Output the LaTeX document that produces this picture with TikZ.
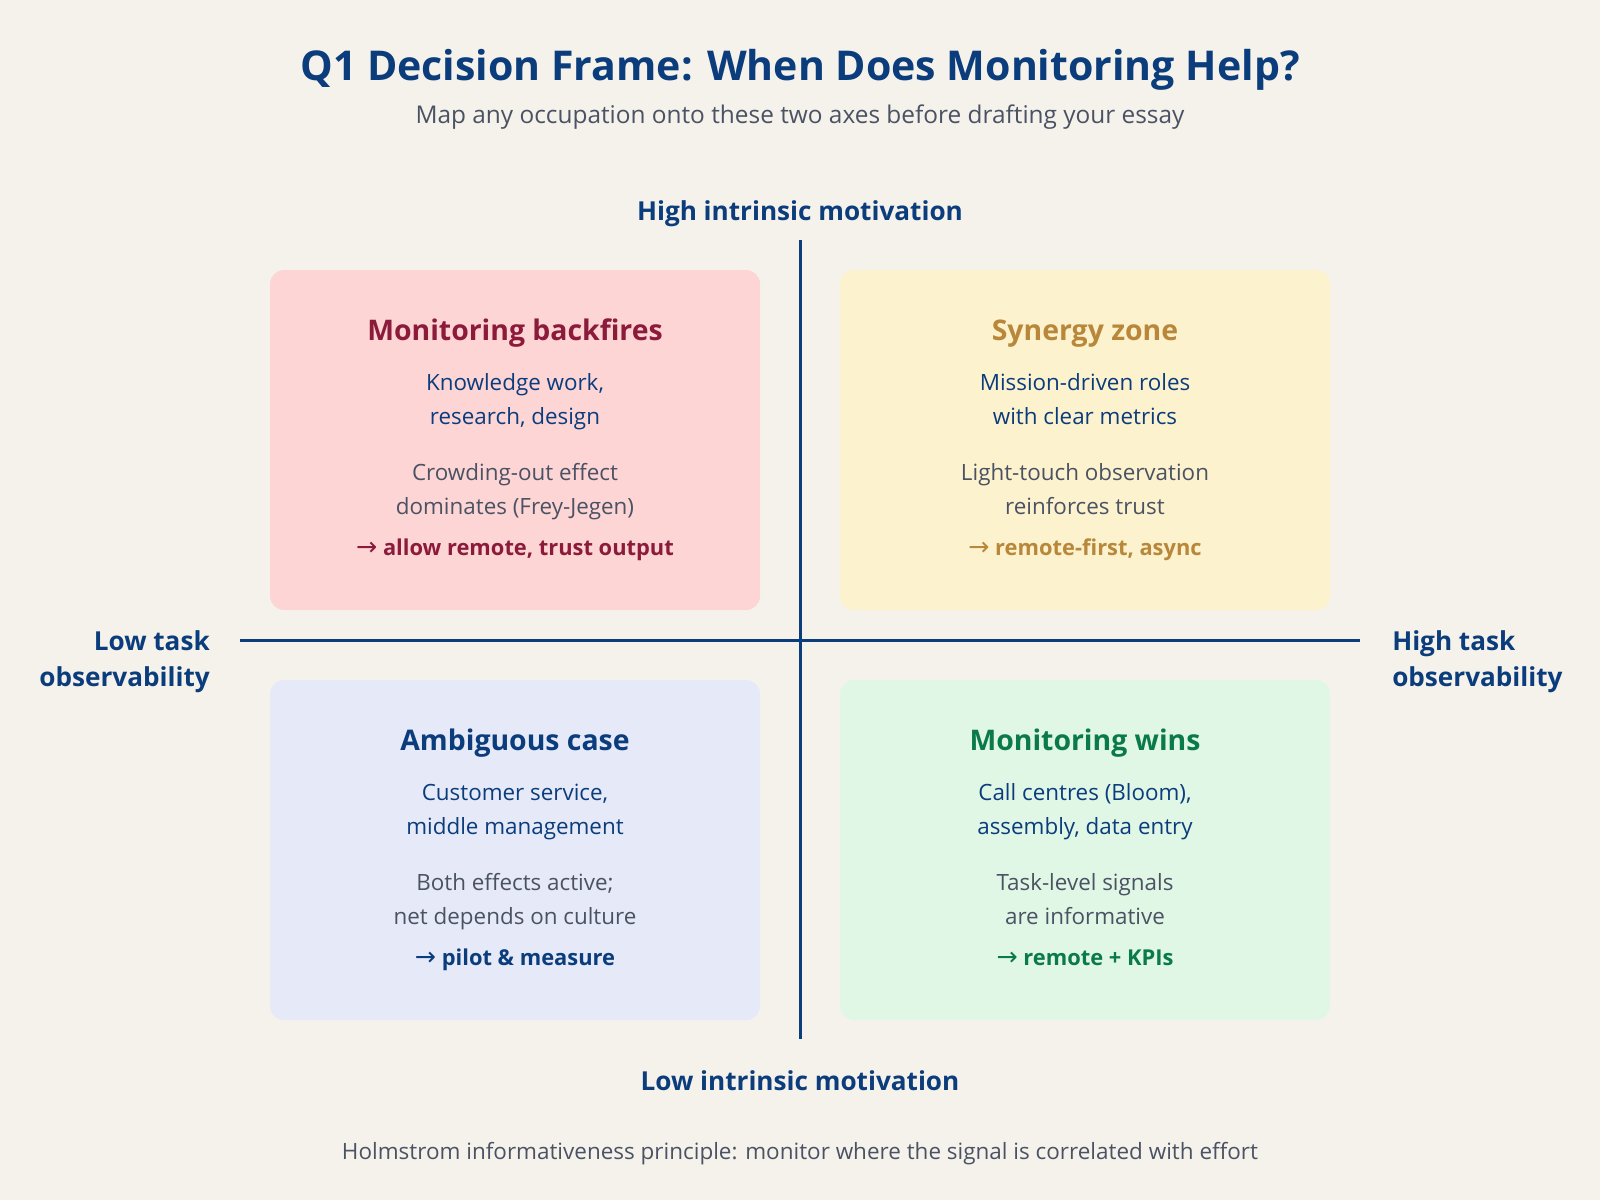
\documentclass[tikz,border=0pt]{standalone}
\usepackage{fontspec}
\setmainfont{Open Sans}
\newfontfamily\arrowfont{DejaVu Sans}
\definecolor{bg}{HTML}{F5F2EB}
\definecolor{navy}{HTML}{0B3C7C}
\definecolor{graytext}{HTML}{4A5263}
\definecolor{tlfill}{HTML}{FDD5D5}
\definecolor{tltext}{HTML}{8B1A3B}
\definecolor{trfill}{HTML}{FDF2CE}
\definecolor{trtext}{HTML}{B8873A}
\definecolor{blfill}{HTML}{E6EAF8}
\definecolor{bltext}{HTML}{0B3C7C}
\definecolor{brfill}{HTML}{E1F7E6}
\definecolor{brtext}{HTML}{0B7A4B}
\newcommand\arr{{\arrowfont\mdseries\fontsize{19}{20}\selectfont →}}
\tikzset{
  quadbox/.style={rounded corners=10.5pt, minimum width=367.5pt, minimum height=255pt, inner sep=0pt, draw=none},
  txt/.style={anchor=base, inner sep=0pt},
  titlefont/.style={font=\fontsize{30.8}{36}\selectfont\bfseries},
  subfont/.style={font=\fontsize{18.3}{22}\selectfont},
  axisfont/.style={font=\fontsize{19.6}{24}\selectfont\bfseries},
  qtitle/.style={font=\fontsize{21.3}{25}\selectfont\bfseries},
  qbody/.style={font=\fontsize{16.8}{20}\selectfont},
  qarrow/.style={font=\fontsize{16.4}{20}\selectfont\bfseries},
  footfont/.style={font=\fontsize{16.85}{20}\selectfont},
  axisline/.style={draw=navy, line width=2.25pt}
}
\newcommand\quadrant[9]{%
  \node[quadbox, fill=#1fill] (#1box) at (#2,{440+#3}) {};
  \node[txt, qtitle, text=#1text] (#1title) at (#2,{340+#3}) {#4};
  \node[txt, qbody, text=navy] (#1a1) at (#2,{390+#3}) {#5};
  \node[txt, qbody, text=navy] (#1a2) at (#2,{424+#3}) {#6};
  \node[txt, qbody, text=graytext] (#1b1) at (#2,{480+#3}) {#7};
  \node[txt, qbody, text=graytext] (#1b2) at (#2,{514+#3}) {#8};
  \node[txt, qarrow, text=#1text] (#1c) at (#2,{555+#3}) {#9};
}
\begin{document}
\begin{tikzpicture}[x=0.75pt,y=-0.75pt]
\fill[bg] (0,0) rectangle (1600,1200);
\useasboundingbox (0,0) rectangle (1600,1200);

\node[txt, titlefont, text=navy] (title) at (800,80) {Q1 Decision Frame: When Does Monitoring Help?};
\node[txt, subfont, text=graytext] (subtitle) at (800,123) {Map any occupation onto these two axes before drafting your essay};

\quadrant{tl}{515}{0}{Monitoring backfires}{Knowledge work,}{research, design}{Crowding-out effect}{dominates (Frey-Jegen)}{\arr\ allow remote, trust output}
\quadrant{tr}{1085}{0}{Synergy zone}{Mission-driven roles}{with clear metrics}{Light-touch observation}{reinforces trust}{\arr\ remote-first, async}
\quadrant{bl}{515}{410}{Ambiguous case}{Customer service,}{middle management}{Both effects active;}{net depends on culture}{\arr\ pilot \& measure}
\quadrant{br}{1085}{410}{Monitoring wins}{Call centres (Bloom),}{assembly, data entry}{Task-level signals}{are informative}{\arr\ remote + KPIs}

\coordinate (vtop) at (800,240);
\coordinate (vbot) at (800,1039);
\coordinate (hleft) at (240,640);
\coordinate (hright) at (1360,640);
\draw[axisline] (vtop) -- (vbot);
\draw[axisline] (hleft) -- (hright);

\node[txt, axisfont, text=navy] (hiim) at (800,220) {High intrinsic motivation};
\node[txt, axisfont, text=navy] (loim) at (800,1090) {Low intrinsic motivation};
\node[txt, axisfont, text=navy, anchor=base east] (lto1) at (210,650) {Low task};
\node[txt, axisfont, text=navy, anchor=base east] (lto2) at (210,686) {observability};
\node[txt, axisfont, text=navy, anchor=base west] (hto1) at (1392,650) {High task};
\node[txt, axisfont, text=navy, anchor=base west] (hto2) at (1392,686) {observability};

\node[txt, footfont, text=graytext] (footer) at (800,1159) {Holmstrom informativeness principle: monitor where the signal is correlated with effort};
\end{tikzpicture}
\end{document}
